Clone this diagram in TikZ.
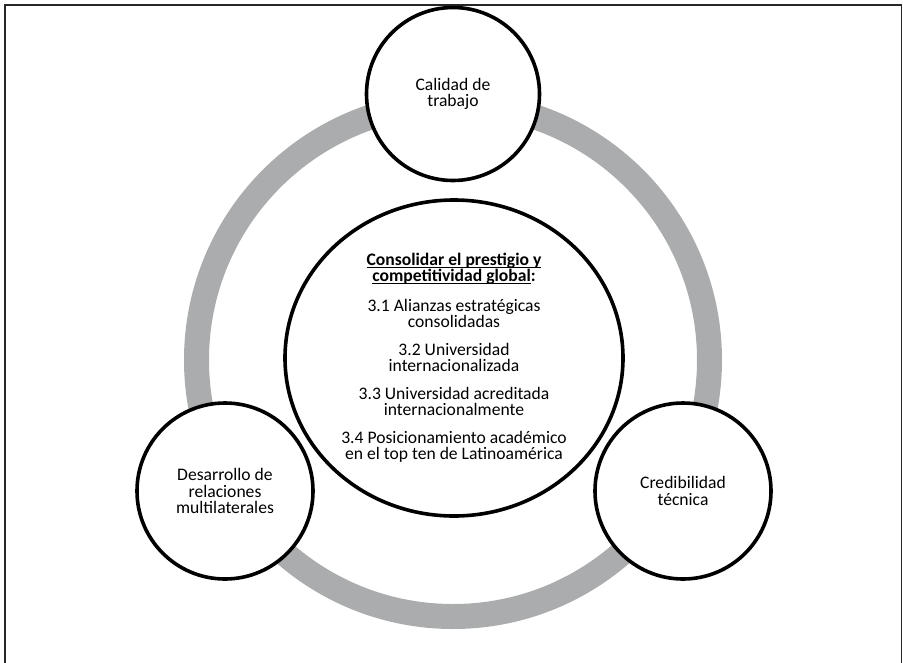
\documentclass[tikz,border=0pt]{standalone}
\usepackage{fontspec}
\setmainfont{Carlito}
\usepackage{tikz}
\usetikzlibrary{shapes.geometric}
\definecolor{ringgray}{RGB}{170,172,173}
\newcommand{\ulbold}[1]{\setbox0\hbox{\bfseries #1}\rlap{\rule[-2pt]{\wd0}{1.1pt}}\box0}

\begin{document}
\begin{tikzpicture}[x=1pt,y=-1pt,
    pillar/.style={circle, draw, line width=3.6pt, fill=white, minimum size=#1,
      inner sep=0pt, align=center, font=\fontsize{17.6}{16.5}\selectfont},
    goal/.style={ellipse, draw, line width=3.6pt, fill=white, minimum width=338pt,
      minimum height=316pt, inner sep=0pt, align=center, font=\fontsize{17.6}{16}\selectfont}]
    \useasboundingbox (0,0) rectangle (903,662);
    % Frame
    \begin{scope}
        \clip (0,0) rectangle (903,662);
        \draw[line width=1.5pt, black!85] (5,5) rectangle (901.5,680);
    \end{scope}

    % Ring
    \draw[ringgray, line width=25pt] (453,360) circle (256.5pt);

    % Centre: goal
    \node[goal] (goal) at (454,358) {\ulbold{Consolidar el prestigio y}\\
        \ulbold{competitividad global}\textbf{:}\\[14pt]
        3.1 Alianzas estratégicas\\ consolidadas\\[12pt]
        3.2 Universidad\\ internacionalizada\\[12pt]
        3.3 Universidad acreditada\\ internacionalmente\\[12pt]
        3.4 Posicionamiento académico\\ en el top ten de Latinoamérica};

    % Pillars on the ring
    \node[pillar=173pt] (quality) at (453,94) {Calidad de\\trabajo};
    \node[pillar=176pt] (relations) at (225,491) {Desarrollo de\\relaciones\\multilaterales};
    \node[pillar=176pt] (credibility) at (683,491) {Credibilidad\\técnica};
\end{tikzpicture}
\end{document}
